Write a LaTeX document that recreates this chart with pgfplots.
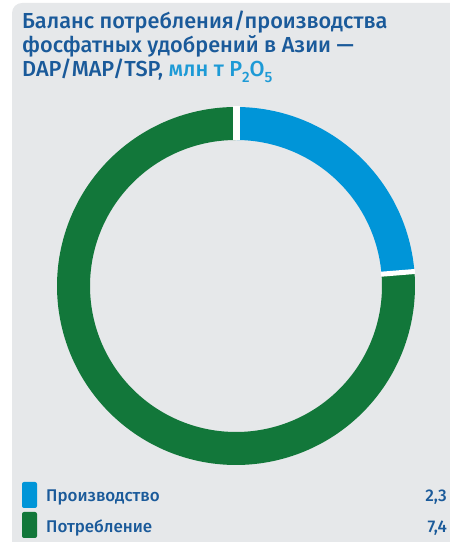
\documentclass[border=0pt]{standalone}
\usepackage{fontspec}
\setmainfont{Fira Sans}[BoldFont={Fira Sans Medium}]
\usepackage{pgfplots}
\usepackage{pgfplotstable}
\pgfplotsset{compat=1.18}
\definecolor{bg}{HTML}{E6E8EA}
\definecolor{ttl}{HTML}{1A5A9A}
\definecolor{pblue}{HTML}{0095D8}
\definecolor{pgreen}{HTML}{12773A}
\definecolor{sub}{HTML}{1D9AD6}
\pgfplotstableread{
label value
1 2.3
2 7.4
}\datatable
\pgfplotstablegetelem{0}{value}\of\datatable \let\vA\pgfplotsretval
\pgfplotstablegetelem{1}{value}\of\datatable \let\vB\pgfplotsretval
\pgfmathsetmacro\aMid{90-360*\vA/(\vA+\vB)}
\def\cx{236}
\def\cy{258}
\newcommand\sub[1]{\raisebox{-6bp}{\fontsize{15}{15}\selectfont #1}}
\begin{document}
\begin{tikzpicture}
\begin{axis}[at={(0,0)},anchor=south west,width=450bp,height=544bp,scale only axis,
  xmin=0,xmax=450,ymin=0,ymax=544,hide axis,clip=false]
\fill[bg] (12,2) [rounded corners=10bp] -- (12,541) [sharp corners] -- (450,541) -- (450,2) -- cycle;
\addplot[pblue, line width=33bp, domain=90:\aMid, samples=150, variable=\t]
  ({\cx+162.5*cos(\t)},{\cy+162.5*sin(\t)});
\addplot[pgreen, line width=33bp, domain=\aMid:-270, samples=300, variable=\t]
  ({\cx+162.5*cos(\t)},{\cy+162.5*sin(\t)});
\draw[white, line width=7bp] ({\cx+145.5*cos(90)},{\cy+145.5*sin(90)}) -- ({\cx+179.5*cos(90)},{\cy+179.5*sin(90)});
\draw[white, line width=5bp] ({\cx+145.5*cos(\aMid)},{\cy+145.5*sin(\aMid)}) -- ({\cx+179.5*cos(\aMid)},{\cy+179.5*sin(\aMid)});
\begin{scope}[every node/.style={inner sep=0pt, anchor=base west, text=ttl, font=\bfseries\fontsize{21.8}{24}\selectfont}]
\node at (22,515) {Баланс потребления/производства};
\node at (22,491) {фосфатных удобрений в Азии —};
\node at (22,467) {DAP/MAP/TSP, {\color{sub}млн т P\sub{2}O\sub{5}}};
\end{scope}
\fill[pblue, rounded corners=2bp] (22,36) rectangle (37,62);
\fill[pgreen, rounded corners=2bp] (22,6) rectangle (37,32);
\begin{scope}[every node/.style={inner sep=0pt, text=ttl, font=\bfseries\fontsize{17}{19}\selectfont}]
\node[anchor=base west] at (46,42) {Производство};
\node[anchor=base west] at (46,12) {Потребление};
\node[anchor=base east] at (447,42) {2,3};
\node[anchor=base east] at (447,12) {7,4};
\end{scope}
\end{axis}
\pgfresetboundingbox
\path (0,0) rectangle (450bp,544bp);
\end{tikzpicture}
\end{document}
